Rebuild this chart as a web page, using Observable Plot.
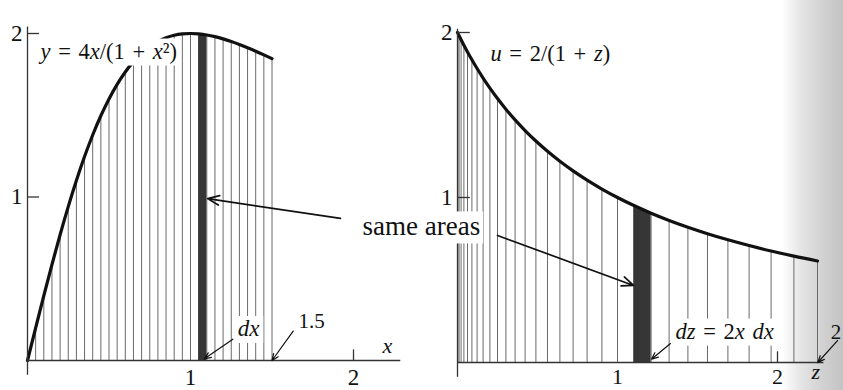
<!DOCTYPE html>
<html>
<head>
<meta charset="utf-8">
<script src="https://cdn.jsdelivr.net/npm/d3@7"></script>
<script src="https://cdn.jsdelivr.net/npm/@observablehq/plot@0.6"></script>
<style>
  html, body { margin: 0; padding: 0; background: #fff; }
  #chart {
    position: relative; width: 843px; height: 390px; overflow: hidden;
    background: linear-gradient(to right, #ffffff 0px, #ffffff 782px, #e6e6e6 800px, #d2d2d2 822px, #c3c3c3 843px);
  }
  #chart svg { position: absolute; left: 0; top: 0; }
  #chart svg text { font-family: "Liberation Serif", "Times New Roman", serif; }
</style>
</head>
<body>
<div id="chart"></div>
<script>
// ---- data ----
// left panel: strips every dx = 0.05 under y = 4x/(1+x^2)
const xValues = [0, 0.05, 0.1, 0.15, 0.2, 0.25, 0.3, 0.35, 0.4, 0.45, 0.5, 0.55, 0.6, 0.65, 0.7, 0.75, 0.8, 0.85, 0.9, 0.95, 1, 1.05, 1.1, 1.15, 1.2, 1.25, 1.3, 1.35, 1.4, 1.45, 1.5];
const yValues = [0, 0.1995, 0.3960, 0.5868, 0.7692, 0.9412, 1.1009, 1.2472, 1.3793, 1.4969, 1.6, 1.6891, 1.7647, 1.8278, 1.8792, 1.92, 1.9512, 1.9739, 1.9890, 1.9974, 2, 1.9976, 1.9910, 1.9806, 1.9672, 1.9512, 1.9331, 1.9132, 1.8919, 1.8695, 1.8462];
// right panel: the same strips after z = x^2, under u = 2/(1+z)
const zValues = [0, 0.0025, 0.01, 0.0225, 0.04, 0.0625, 0.09, 0.1225, 0.16, 0.2025, 0.25, 0.3025, 0.36, 0.4225, 0.49, 0.5625, 0.64, 0.7225, 0.81, 0.9025, 1, 1.1025, 1.21, 1.3225, 1.44, 1.5625, 1.69, 1.8225, 1.96, 2.1025, 2.25];
const uValues = [2, 1.9950, 1.9802, 1.9560, 1.9231, 1.8824, 1.8349, 1.7817, 1.7241, 1.6632, 1.6, 1.5355, 1.4706, 1.4060, 1.3423, 1.28, 1.2195, 1.1611, 1.1050, 1.0512, 1, 0.9512, 0.9050, 0.8611, 0.8197, 0.7805, 0.7435, 0.7087, 0.6757, 0.6446, 0.6154];
const stripFrom = 21, stripTo = 22;          // shaded strip: x 1.05..1.10  (z 1.1025..1.21)
const yTicks = [1, 2];
const xTickLabels = [1, 2];
const xTickMarks = [2];
const leftLabel = "*y* = 4*x*/(1 + *x*²)";
const rightLabel = "*u* = 2/(1 + *z*)";
const dxLabel = "*dx*";
const dzLabel = "*dz* = 2*x* *dx*";
const endLabel = "1.5";
const endLabelRight = "2";      // only the first character of the page-cut label is visible
const sameLabel = "same areas";
const xName = "*x*", zName = "*z*";

const left = xValues.map((x, i) => ({x, y: yValues[i]}));
const right = zValues.map((z, i) => ({x: z, y: uValues[i]}));
const leftStrip = left.slice(stripFrom, stripTo + 1);
const rightStrip = right.slice(stripFrom, stripTo + 1);

const FONT = "Liberation Serif, Times New Roman, serif";
const INK = "#111";
const HATCH = "#6a6a6a";
const T = {fontFamily: FONT, fill: INK};

const leftPlot = Plot.plot({
  width: 843, height: 390,
  style: "background: transparent; font-family: 'Liberation Serif', serif; overflow: visible;",
  x: {domain: [0, 2.4], range: [27, 27 + 2.4 * 163], axis: null},
  y: {domain: [0, 2.1], range: [360, 360 - 2.1 * 163.5], axis: null},
  marks: [
    Plot.ruleX(left, {x: "x", y1: 0, y2: "y", stroke: HATCH, strokeWidth: 1}),
    Plot.areaY(leftStrip, {x: "x", y: "y", fill: "#363636"}),
    Plot.line(left, {x: "x", y: "y", stroke: INK, strokeWidth: 3.2, curve: "monotone-x"}),
    Plot.ruleY([0], {x1: 0, x2: 2.29, stroke: "#333", strokeWidth: 1.3}),
    Plot.ruleX([0], {y1: -0.09, y2: 2.04, stroke: "#333", strokeWidth: 1.3}),
    Plot.ruleY(yTicks, {y: d => d, x1: 0, x2: 0.074, stroke: "#333", strokeWidth: 1.3}),
    Plot.ruleX(xTickMarks, {x: d => d, y1: 0, y2: 0.065, stroke: "#333", strokeWidth: 1.3}),
    Plot.text(yTicks, {...T, x: 0, y: d => d, text: d => String(d), dx: -5, textAnchor: "end", fontSize: 23}),
    Plot.text(xTickLabels, {...T, x: d => d, y: 0, text: d => String(d), dy: 17, fontSize: 23}),
    Plot.text([leftLabel], {...T, x: 0.08, y: 1.847, text: d => d, textAnchor: "start", lineAnchor: "bottom", fontSize: 22.5}),
    Plot.text([dxLabel], {...T, x: 1.29, y: 0.15, text: d => d, textAnchor: "start", lineAnchor: "bottom", fontSize: 23}),
    Plot.text([endLabel], {...T, x: 1.663, y: 0.196, text: d => d, textAnchor: "start", lineAnchor: "bottom", fontSize: 21}),
    Plot.text([xName], {...T, x: 2.178, y: 0.043, text: d => d, textAnchor: "start", lineAnchor: "bottom", fontSize: 22}),
    Plot.arrow([0], {x1: 1.26, y1: 0.13, x2: 1.085, y2: 0.01, stroke: INK, strokeWidth: 1.2, headLength: 9, headAngle: 45}),
    Plot.arrow([0], {x1: 1.63, y1: 0.18, x2: 1.5, y2: 0.0, stroke: INK, strokeWidth: 1.2, headLength: 9, headAngle: 45}),
    Plot.arrow([0], {x1: 1.92, y1: 0.869, x2: 1.105, y2: 0.99, stroke: INK, strokeWidth: 1.7, headLength: 11, headAngle: 45})
  ]
});

const rightPlot = Plot.plot({
  width: 843, height: 390,
  style: "background: transparent; font-family: 'Liberation Serif', serif; overflow: hidden;",
  x: {domain: [0, 2.4], range: [457, 457 + 2.4 * 160], axis: null},
  y: {domain: [0, 2.1], range: [362, 362 - 2.1 * 165], axis: null},
  marks: [
    Plot.ruleX(right, {x: "x", y1: 0, y2: "y", stroke: HATCH, strokeWidth: 1}),
    Plot.areaY(rightStrip, {x: "x", y: "y", fill: "#363636"}),
    Plot.line(right, {x: "x", y: "y", stroke: INK, strokeWidth: 3.2, curve: "monotone-x"}),
    Plot.ruleY([0], {x1: 0, x2: 2.29, stroke: "#333", strokeWidth: 1.3}),
    Plot.ruleX([0], {y1: -0.09, y2: 2.02, stroke: "#333", strokeWidth: 1.3}),
    Plot.ruleY(yTicks, {y: d => d, x1: 0, x2: 0.08, stroke: "#333", strokeWidth: 1.3}),
    Plot.ruleX(xTickMarks, {x: d => d, y1: 0, y2: 0.065, stroke: "#333", strokeWidth: 1.3}),
    Plot.text(yTicks, {...T, x: 0, y: d => d, text: d => String(d), dx: -5, textAnchor: "end", fontSize: 23}),
    Plot.text(xTickLabels, {...T, x: d => d, y: 0, text: d => String(d), dy: 14, fontSize: 22}),
    Plot.text([rightLabel], {...T, x: 0.206, y: 1.83, text: d => d, textAnchor: "start", lineAnchor: "bottom", fontSize: 22.5}),
    Plot.text([dzLabel], {...T, x: 1.3625, y: 0.145, text: d => d, textAnchor: "start", lineAnchor: "bottom", fontSize: 22.5}),
    Plot.text([zName], {...T, x: 2.2125, y: -0.1, text: d => d, textAnchor: "start", lineAnchor: "bottom", fontSize: 22}),
    Plot.text([endLabelRight], {...T, x: 2.38, y: 0.145, text: d => d, dx: 3, textAnchor: "end", lineAnchor: "bottom", fontSize: 21}),
    Plot.text([sameLabel], {...T, x: -0.594, y: 0.77, text: d => d, textAnchor: "start", lineAnchor: "bottom", fontSize: 27}),
    Plot.arrow([0], {x1: 1.331, y1: 0.115, x2: 1.2125, y2: 0.02, stroke: INK, strokeWidth: 1.2, headLength: 9, headAngle: 45}),
    Plot.arrow([0], {x1: 2.375, y1: 0.133, x2: 2.252, y2: 0.0, stroke: INK, strokeWidth: 1.2, headLength: 9, headAngle: 45}),
    Plot.arrow([0], {x1: 0.25, y1: 0.77, x2: 1.1, y2: 0.467, stroke: INK, strokeWidth: 1.7, headLength: 11, headAngle: 45})
  ]
});

const chart = document.getElementById("chart");
chart.appendChild(leftPlot);
chart.appendChild(rightPlot);

// italic variables (marked with *...*), math spacing, and white boxes behind labels that cover the hatching
const boxed = [leftLabel, dxLabel, dzLabel, sameLabel];
const NS = "http://www.w3.org/2000/svg";
for (const svg of [leftPlot, rightPlot]) {
  svg.querySelectorAll("text").forEach(t => {
    const s = t.textContent;
    const needsBox = boxed.includes(s);
    if (s.includes("=")) t.style.wordSpacing = "0.09em";
    if (s.includes("*")) {
      t.textContent = "";
      s.split("*").forEach((part, i) => {
        if (!part) return;
        const ts = document.createElementNS(NS, "tspan");
        if (i % 2 === 1) ts.setAttribute("font-style", "italic");
        ts.textContent = part;
        t.appendChild(ts);
      });
    }
    if (needsBox) {
      const b = t.getBBox();
      const r = document.createElementNS(NS, "rect");
      r.setAttribute("x", b.x - 3);
      r.setAttribute("y", b.y);
      r.setAttribute("width", b.width + 6);
      r.setAttribute("height", b.height + 2);
      r.setAttribute("fill", "white");
      const tr = t.getAttribute("transform");
      if (tr) r.setAttribute("transform", tr);
      t.parentNode.insertBefore(r, t);
    }
  });
}
</script>
</body>
</html>
